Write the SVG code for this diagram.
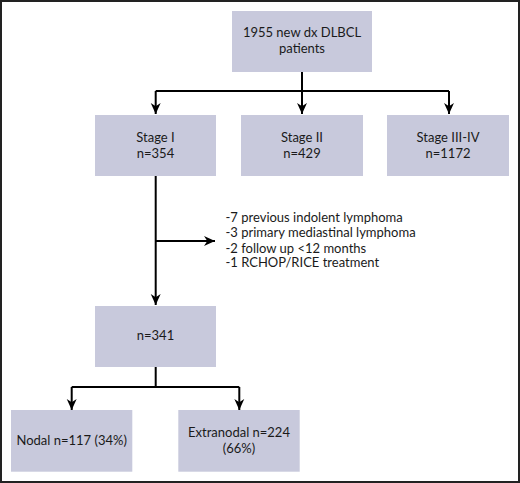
<svg xmlns="http://www.w3.org/2000/svg" width="520" height="483" viewBox="0 0 520 483">
<defs>
<style>
.box{fill:#c8c9dc;}
.t{font-family:Lato,"Open Sans","Liberation Sans",sans-serif;font-size:13px;fill:#1a1a1a;}
.c{text-anchor:middle;}
.ln{fill:none;stroke:#000;stroke-width:2;}
</style>
<marker id="ah" markerWidth="11" markerHeight="11" viewBox="0 0 10 10" refX="10" refY="5" orient="auto" markerUnits="userSpaceOnUse">
<path d="M0,0.5 L10,5 L0,9.5 L3,5 Z" fill="#000"/>
</marker>
</defs>
<rect x="1" y="1" width="518" height="481" fill="#fff" stroke="#222" stroke-width="2"/>
<g id="connectors">
<path class="ln" d="M302,72 V91"/>
<path class="ln" d="M155.7,91 H449"/>
<path class="ln" d="M155.7,91 V114" marker-end="url(#ah)"/>
<path class="ln" d="M302,91 V114" marker-end="url(#ah)"/>
<path class="ln" d="M449,91 V114" marker-end="url(#ah)"/>
<path class="ln" d="M155.7,176 V305" marker-end="url(#ah)"/>
<path class="ln" d="M155.7,241 H215" marker-end="url(#ah)"/>
<path class="ln" d="M155.7,367 V387"/>
<path class="ln" d="M71.7,387 H239.3"/>
<path class="ln" d="M71.7,387 V410" marker-end="url(#ah)"/>
<path class="ln" d="M239.3,387 V410" marker-end="url(#ah)"/>
</g>
<g id="n-total">
<rect class="box" x="232" y="11" width="140" height="61"/>
<text class="t c" x="302" y="37">1955 new dx DLBCL</text>
<text class="t c" x="302" y="53">patients</text>
</g>
<g id="n-stage1">
<rect class="box" x="95" y="115" width="121" height="61"/>
<text class="t c" x="155.5" y="141.5">Stage I</text>
<text class="t c" x="155.5" y="157.5">n=354</text>
</g>
<g id="n-stage2">
<rect class="box" x="241" y="115" width="122" height="61"/>
<text class="t c" x="302" y="141.5">Stage II</text>
<text class="t c" x="302" y="157.5">n=429</text>
</g>
<g id="n-stage34">
<rect class="box" x="387" y="115" width="122" height="61"/>
<text class="t c" x="448" y="141.5">Stage III-IV</text>
<text class="t c" x="448" y="157.5">n=1172</text>
</g>
<g id="n-excl">
<text class="t" x="225.5" y="222">-7 previous indolent lymphoma</text>
<text class="t" x="225.5" y="237">-3 primary mediastinal lymphoma</text>
<text class="t" x="225.5" y="252.5">-2 follow up &lt;12 months</text>
<text class="t" x="225.5" y="267">-1 RCHOP/RICE treatment</text>
</g>
<g id="n-341">
<rect class="box" x="95" y="306" width="121" height="61"/>
<text class="t c" x="155.5" y="340">n=341</text>
</g>
<g id="n-nodal">
<rect class="box" x="11" y="410" width="121.3" height="61.7"/>
<text class="t c" x="71.7" y="445">Nodal n=117 (34%)</text>
</g>
<g id="n-extranodal">
<rect class="box" x="178.3" y="410" width="121.4" height="61.7"/>
<text class="t c" x="239" y="437.3">Extranodal n=224</text>
<text class="t c" x="239" y="453.3">(66%)</text>
</g>
</svg>
